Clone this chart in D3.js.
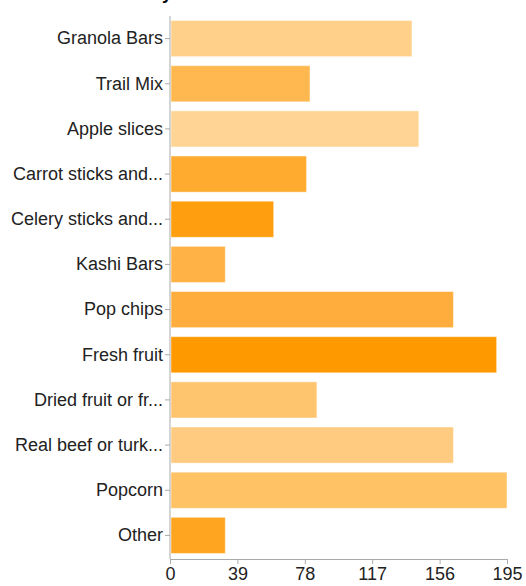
<!DOCTYPE html>
<html><head><meta charset="utf-8">
<script src="https://cdn.jsdelivr.net/npm/d3@7"></script>
<style>body{margin:0;background:#fff;}svg{display:block;font-family:"Liberation Sans",Arial,sans-serif;}</style>
</head><body><svg id="c" width="526" height="586"></svg>
<script>
const categories = ["Granola Bars","Trail Mix","Apple slices","Carrot sticks and...","Celery sticks and...","Kashi Bars","Pop chips","Fresh fruit","Dried fruit or fr...","Real beef or turk...","Popcorn","Other"];
const values = [140,81,144,79,60,32,164,189,85,164,195,32];
const colors = ["#FFD08A","#FFB84F","#FFD494","#FFAB30","#FF9E0F","#FFB245","#FFAE3D","#FF9900","#FFC46E","#FFCB80","#FFC265","#FFA520"];
const xTicks = [0,39,78,117,156,195];
const title = "Snack Survey";

const svg = d3.select("#c");
const x = d3.scaleLinear().domain([0,195]).range([170,507]);
const y = d3.scaleBand().domain(categories).range([16,558]).paddingInner(0.2).paddingOuter(0.1);

svg.append("text").attr("x",172).attr("y",-1).attr("text-anchor","end")
  .attr("font-weight","bold").attr("font-size",18).attr("fill","#000").text(title);

svg.append("g").selectAll("rect").data(categories).join("rect")
  .attr("x",x(0)+1).attr("y",d=>y(d))
  .attr("width",(d,i)=>x(values[i])-x(0)-1).attr("height",y.bandwidth())
  .attr("fill",(d,i)=>colors[i]).attr("stroke","#fff").attr("stroke-opacity",0.45).attr("stroke-width",1);

const ya = svg.append("g").attr("transform","translate(170,0)")
  .call(d3.axisLeft(y).tickSize(5).tickPadding(2).tickSizeOuter(0));
const xa = svg.append("g").attr("transform","translate(0,559)")
  .call(d3.axisBottom(x).tickValues(xTicks).tickSize(5).tickPadding(3).tickSizeOuter(0));
[ya,xa].forEach(g=>{
  g.selectAll("path,line").attr("stroke","#aaa");
  g.selectAll("text").attr("font-size",18).attr("fill","#222").attr("font-family","'Liberation Sans',Arial,sans-serif");
});
ya.select(".domain").attr("d","M0,16V559");
</script></body></html>
